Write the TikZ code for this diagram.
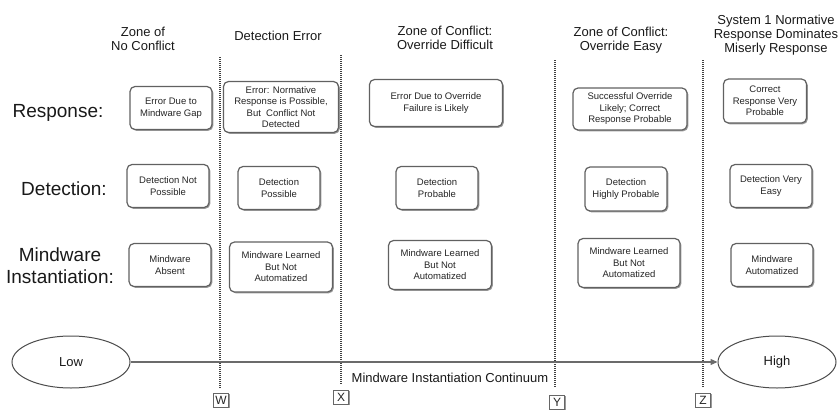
\documentclass[tikz,border=0pt]{standalone}
\usepackage{fontspec}
\setmainfont{Liberation Sans}
\usetikzlibrary{shapes.geometric,shadows,arrows.meta}
\begin{document}
\begin{tikzpicture}[x=1pt,y=-1pt,
  box/.style={draw=black!62, line width=1.2pt, rounded corners=5pt, fill=white,
    align=center, text=black!85, inner sep=2pt,
    font=\fontsize{9.5}{11.5}\selectfont,
    drop shadow={shadow xshift=1.3pt, shadow yshift=-1.3pt, fill=black!50, opacity=0.8}},
  rowlabel/.style={font=\fontsize{19}{22}\selectfont, align=center, text=black!90},
  header/.style={font=\fontsize{13}{14}\selectfont, align=center, text=black!90},
  zoneline/.style={dash pattern=on 1pt off 1pt, line width=1.2pt, draw=black!75},
  letterbox/.style={draw=black!60, line width=0.9pt, fill=white,
    font=\fontsize{12}{12}\selectfont, minimum width=15pt, minimum height=14pt,
    inner sep=0pt, text=black!85,
    drop shadow={shadow xshift=1pt, shadow yshift=-1pt, fill=black!50, opacity=0.8}},
  endpoint/.style={ellipse, draw=black!70, line width=1pt, minimum width=118pt,
    minimum height=52pt, font=\fontsize{13}{13}\selectfont, text=black!90}
]
\useasboundingbox (0,0) rectangle (839,410);

% zone boundaries
\coordinate (wtop) at (220,57);  \coordinate (wbot) at (220,388);
\coordinate (xtop) at (341,55);  \coordinate (xbot) at (341,385);
\coordinate (ytop) at (555,60);  \coordinate (ybot) at (555,388);
\coordinate (ztop) at (703,60);  \coordinate (zbot) at (703,388);
\draw[zoneline] (wtop) -- (wbot);
\draw[zoneline] (xtop) -- (xbot);
\draw[zoneline] (ytop) -- (ybot);
\draw[zoneline] (ztop) -- (zbot);

\node[letterbox] (W) at (221,400) {W};
\node[letterbox] (X) at (341,397) {X};
\node[letterbox] (Y) at (557,402) {Y};
\node[letterbox] (Z) at (703,400) {Z};

% column headers
\node[header] (h1) at (143,39) {Zone of\\No Conflict};
\node[header] (h2) at (278,36) {Detection Error};
\node[header] (h3) at (445,38) {Zone of Conflict:\\Override Difficult};
\node[header] (h4) at (621,40) {Zone of Conflict:\\Override Easy};
\node[header] (h5) at (776,35) {System 1 Normative\\Response Dominates\\Miserly Response};

% row labels
\node[rowlabel] (lresp) at (58,113) {Response:};
\node[rowlabel] (ldet) at (64,189) {Detection:};
\node[rowlabel] (lmind) at (60,266) {Mindware\\Instantiation:};

% response row
\node[box, minimum width=82pt, minimum height=43pt] (r1) at (171,108) {Error Due to\\Mindware Gap};
\node[box, minimum width=115pt, minimum height=51pt] (r2) at (281,107) {Error: Normative\\Response is Possible,\\But\ \ Conflict Not\\Detected};
\node[box, minimum width=133pt, minimum height=47pt] (r3) at (436,103) {Error Due to Override\\Failure is Likely};
\node[box, minimum width=114pt, minimum height=42pt] (r4) at (630,109) {Successful Override\\Likely; Correct\\Response Probable};
\node[box, minimum width=83pt, minimum height=44pt] (r5) at (765,101) {Correct\\Response Very\\Probable};

% detection row
\node[box, minimum width=82pt, minimum height=43pt] (d1) at (168,186) {Detection Not\\Possible};
\node[box, minimum width=82pt, minimum height=43pt] (d2) at (279,188) {Detection\\Possible};
\node[box, minimum width=82pt, minimum height=43pt] (d3) at (437,188) {Detection\\Probable};
\node[box, minimum width=82pt, minimum height=44pt] (d4) at (626,189) {Detection\\Highly Probable};
\node[box, minimum width=82pt, minimum height=43pt] (d5) at (771,186) {Detection Very\\Easy};

% mindware row
\node[box, minimum width=82pt, minimum height=43pt] (m1) at (170,265) {Mindware\\Absent};
\node[box, minimum width=103pt, minimum height=50pt] (m2) at (281,267) {Mindware Learned\\But Not\\Automatized};
\node[box, minimum width=103pt, minimum height=49pt] (m3) at (440,265) {Mindware Learned\\But Not\\Automatized};
\node[box, minimum width=102pt, minimum height=49pt] (m4) at (629,263) {Mindware Learned\\But Not\\Automatized};
\node[box, minimum width=82pt, minimum height=43pt] (m5) at (772,265) {Mindware\\Automatized};

% continuum axis
\node[endpoint] (low) at (71,362) {Low};
\node[endpoint] (high) at (777,362) {High};
\draw[draw=black!58, line width=1.2pt, -{Triangle[length=7pt,width=6pt]}] (low) -- (high);
\node[font=\fontsize{13}{13}\selectfont, text=black!90, fill=white, inner sep=1pt] (cont) at (450,378) {Mindware Instantiation Continuum};
\end{tikzpicture}
\end{document}
